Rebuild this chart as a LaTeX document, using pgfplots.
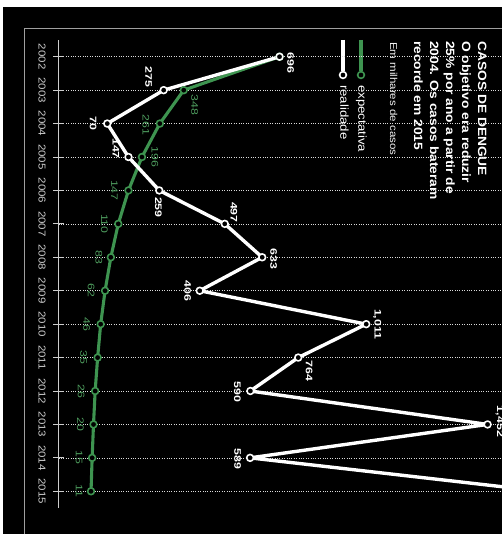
\documentclass[border=0pt]{standalone}
\usepackage{fontspec}
\setmainfont{Liberation Sans}[FakeStretch=1.15]
\newfontfamily\labfont{Liberation Sans}[FakeStretch=1.3]
\usepackage{pgfplots}
\pgfplotsset{compat=1.18}
\usepackage{pgfplotstable}
\definecolor{grn}{RGB}{62,148,80}
\definecolor{axgray}{RGB}{205,205,205}

\pgfplotstableread{
yr v lab dx ty
2002 696 696 11 -6
2003 275 275 -15 13
2004 70 70 -14 0
2005 147 147 -12.5 8.5
2006 259 259 -1 -17
2007 497 497 9 11.5
2008 633 633 11.5 -1.5
2009 406 406 -12 0
2010 1011 1,011 11 0
2011 764 764 11 -13
2012 590 590 -13 -1
2013 1452 1,452 12 3
2014 589 589 -12.5 -1
2015 1650 {} 0 0
}\real

\pgfplotstableread{
yr v lab dx ty
2002 696 {} 0 0
2003 348 348 11 -15
2004 261 261 -14 -1
2005 196 196 13 0
2006 147 147 -14 0
2007 110 110 -14 0
2008 83 83 -12 0
2009 62 62 -14 0
2010 46 46 -14 0
2011 35 35 -14 0
2012 26 26 -14 0
2013 20 20 -13 0
2014 15 15 -13 0
2015 11 11 -12 0
}\expect

\begin{document}
\begin{tikzpicture}
\begin{scope}[x=1pt,y=1pt]
\fill[white] (0,0) rectangle (502,539);
\fill[black] (3,5) rectangle (502,532);
\draw[gray!75, line width=0.8pt] (24,5) -- (24,511) -- (502,511);
% title block
\begin{scope}[every node/.style={rotate=-90, anchor=base west, inner sep=0pt, text=white, font=\bfseries\fontsize{12}{14}\selectfont}]
\node at (478,498) {CASOS DE DENGUE};
\node at (462,498) {O objetivo era reduzir};
\node at (446,498) {25\% por ano a partir de};
\node at (430,498) {2004. Os casos bateram};
\node at (414,498) {recorde em 2015};
\end{scope}
\node[rotate=-90, anchor=base west, inner sep=0pt, text=white!90!gray, font=\fontsize{10}{12}\selectfont] at (390,497) {Em milhares de casos};
% legend
\draw[grn, line width=3.2pt] (361,499) -- (361,468);
\draw[grn, line width=1.6pt, fill=black] (361,464) circle (3.4);
\draw[white, line width=3.2pt] (343,499) -- (343,468);
\draw[white, line width=1.6pt, fill=black] (343,464) circle (3.4);
\node[rotate=-90, anchor=mid west, inner sep=0pt, text=white, font=\fontsize{11.5}{13}\selectfont] at (361,454) {expectativa};
\node[rotate=-90, anchor=mid west, inner sep=0pt, text=white, font=\fontsize{11.5}{13}\selectfont] at (343,454) {realidade};
\end{scope}

\begin{axis}[
  at={(280.25pt,265pt)}, anchor=center,
  scale only axis, width=443.5pt, height=468pt,
  xmin=-107.2, xmax=1504.4, ymin=2001.5, ymax=2015.5,
  y dir=reverse,
  axis x line=none, axis y line=left,
  axis line style={-, draw=axgray, line width=0.8pt},
  ytick={2002,2003,...,2015},
  /pgf/number format/assume math mode=true,
  yticklabel style={/pgf/number format/1000 sep={}, xshift=-11pt, rotate=-90, anchor=center, text=axgray, font=\fontsize{10}{12}\selectfont},
  major tick length=11pt, tick align=center,
  tick style={draw=axgray, line width=0.8pt},
  ymajorgrids, grid style={dotted, gray!28, line width=0.45pt},
  point meta=explicit symbolic,
  nodes near coords,
  visualization depends on={\thisrow{dx} \as \dx},
  visualization depends on={\thisrow{ty} \as \ty},
]
\addplot[grn, line width=3.1pt, line join=round, mark=*, mark size=3.4pt,
  mark options={fill=black, draw=grn, line width=1.6pt},
  nodes near coords style={xshift=\dx pt, yshift=\ty pt, rotate=-90, anchor=center, inner sep=0pt, text=grn!92!white, font=\labfont\fontsize{9.5}{10}\selectfont}]
  table[x=v, y=yr, meta=lab] {\expect};
\addplot[white, line width=3.4pt, line join=round, mark=*, mark size=3.4pt,
  mark options={fill=black, draw=white, line width=1.6pt},
  nodes near coords style={xshift=\dx pt, yshift=\ty pt, rotate=-90, anchor=center, inner sep=0pt, text=white, font=\labfont\bfseries\fontsize{9.5}{10}\selectfont}]
  table[x=v, y=yr, meta=lab] {\real};
\end{axis}
\pgfresetboundingbox
\path[use as bounding box] (0,0) rectangle (502pt,539pt);
\end{tikzpicture}
\end{document}
